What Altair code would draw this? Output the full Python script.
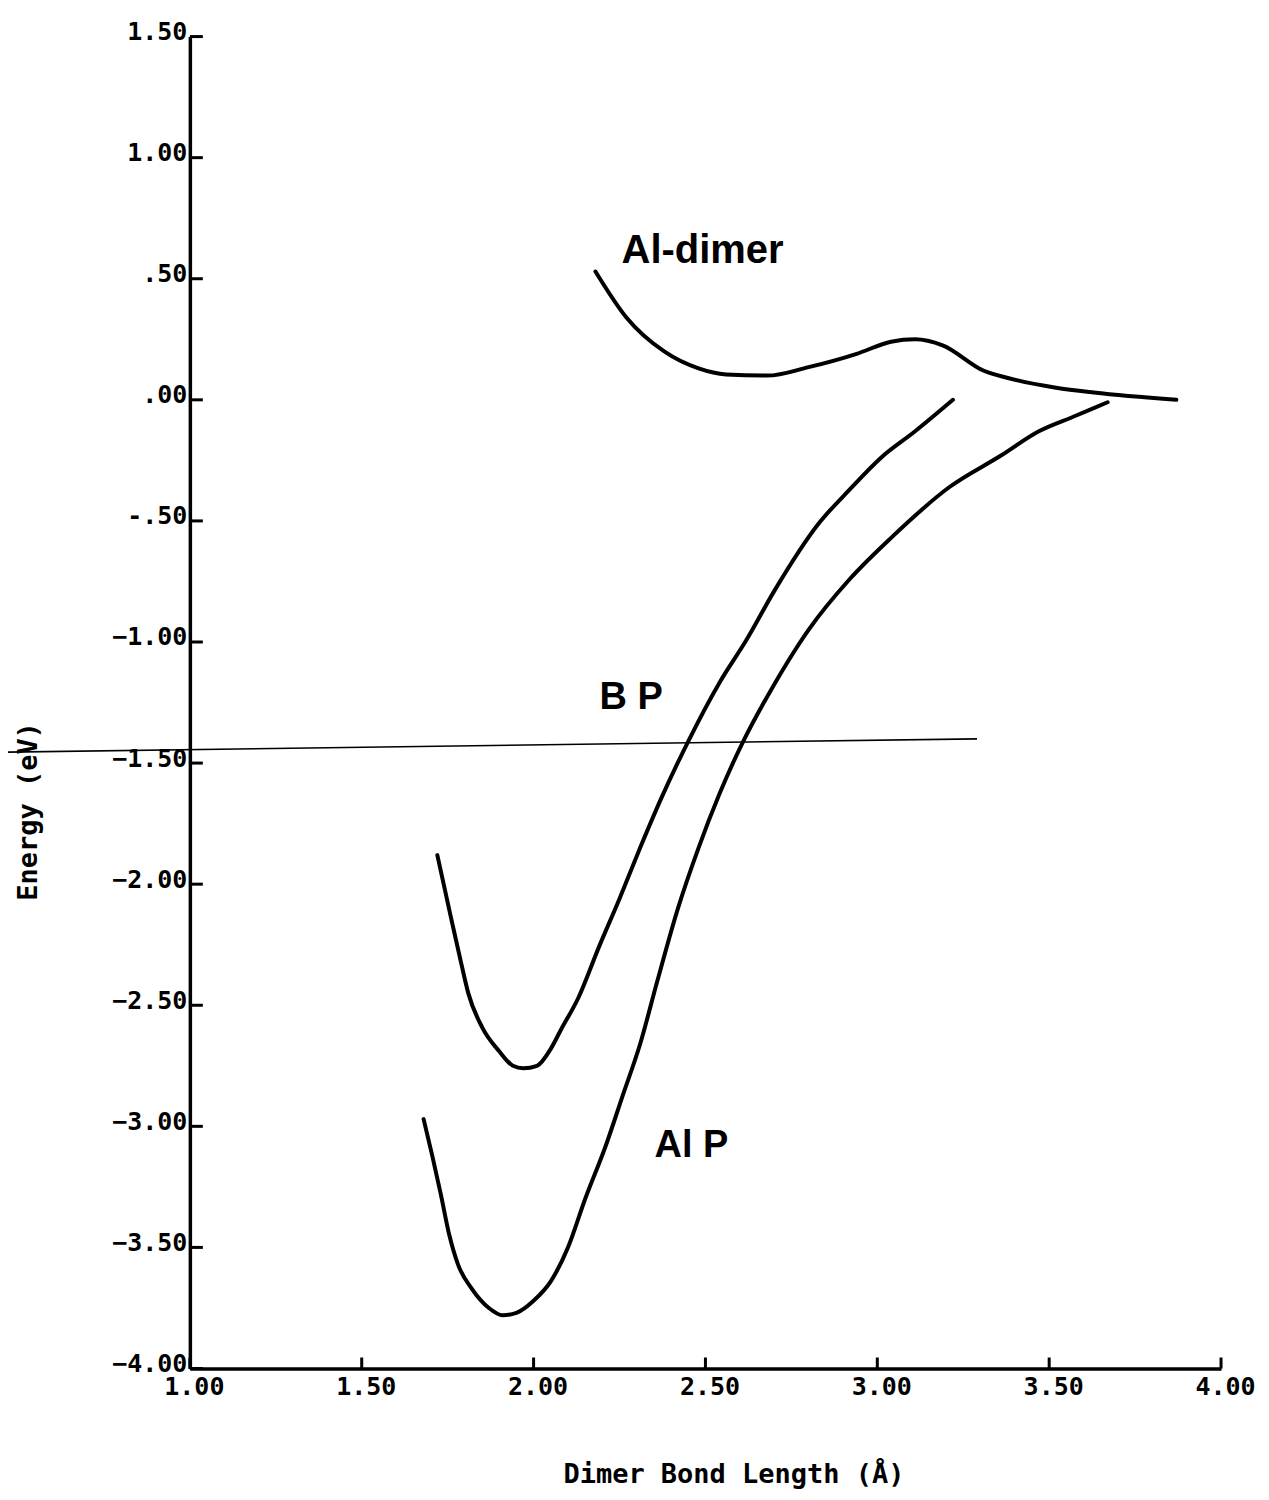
import altair as alt
import pandas as pd

# ---- data ----
al_dimer_x = [2.18, 2.27, 2.38, 2.48, 2.56, 2.68, 2.80, 2.94, 3.04, 3.11, 3.19, 3.31, 3.38, 3.52, 3.63, 3.87]
al_dimer_y = [0.53, 0.34, 0.20, 0.13, 0.105, 0.10, 0.135, 0.19, 0.24, 0.25, 0.225, 0.12, 0.09, 0.05, 0.03, 0.00]

bp_x = [1.72, 1.76, 1.79, 1.81, 1.85, 1.90, 1.94, 1.97, 2.01, 2.05, 2.08, 2.13, 2.19, 2.25, 2.31,
        2.37, 2.45, 2.54, 2.62, 2.70, 2.83, 2.92, 3.01, 3.11, 3.22]
bp_y = [-1.88, -2.14, -2.33, -2.45, -2.59, -2.69, -2.75, -2.76, -2.75, -2.68, -2.60, -2.47, -2.26, -2.06, -1.85,
        -1.65, -1.41, -1.17, -0.99, -0.79, -0.51, -0.37, -0.24, -0.13, 0.00]

alp_x = [1.68, 1.705, 1.73, 1.755, 1.78, 1.82, 1.87, 1.91, 1.95, 2.00, 2.05, 2.10, 2.15, 2.21, 2.26,
         2.31, 2.36, 2.42, 2.48, 2.54, 2.61, 2.67, 2.69, 2.80, 2.92, 3.04, 3.21, 3.36, 3.47, 3.57, 3.67]
alp_y = [-2.97, -3.12, -3.28, -3.45, -3.57, -3.67, -3.75, -3.78, -3.77, -3.72, -3.64, -3.50, -3.30, -3.08, -2.87,
         -2.66, -2.40, -2.10, -1.85, -1.63, -1.41, -1.25, -1.20, -0.95, -0.74, -0.57, -0.36, -0.23, -0.13, -0.07, -0.01]

ref_line_x = [0.45, 3.29]
ref_line_y = [-1.455, -1.40]

label_text = ["Al-dimer", "B P", "Al P"]
label_x = [2.256, 2.192, 2.352]
label_y = [0.567, -1.277, -3.125]
label_size = [40, 38, 38]

x_ticks = [1.0, 1.5, 2.0, 2.5, 3.0, 3.5, 4.0]
y_ticks = [-4.0, -3.5, -3.0, -2.5, -2.0, -1.5, -1.0, -0.5, 0.0, 0.5, 1.0, 1.5]

# ---- tables ----
rows = []
for name, xs, ys in [("Al-dimer", al_dimer_x, al_dimer_y), ("BP", bp_x, bp_y), ("AlP", alp_x, alp_y)]:
    for i, (a, b) in enumerate(zip(xs, ys)):
        rows.append({"series": name, "i": i, "x": a, "y": b})
curves = pd.DataFrame(rows)
ref = pd.DataFrame({"x": ref_line_x, "y": ref_line_y, "i": [0, 1]})
labels = pd.DataFrame({"t": label_text, "x": label_x, "y": label_y, "s": label_size})
xt = pd.DataFrame({"x": x_ticks})
yt = pd.DataFrame({"y": y_ticks})

lab_expr = ("abs(datum.value) < 1 ? (datum.value < 0 ? '-' : '') + "
            "substring(format(abs(datum.value), '.2f'), 1) : format(datum.value, '.2f')")

xscale = alt.Scale(domain=[1, 4], nice=False, zero=False)
yscale = alt.Scale(domain=[-4, 1.5], nice=False, zero=False)

tick_font = "DejaVu Sans Mono"

xaxis = alt.Axis(values=x_ticks, labelExpr=lab_expr, grid=False, tickSize=0, labelPadding=6,
                 labelFont=tick_font, labelFontWeight="bold", labelFontSize=25, labelColor="black",
                 labelOffset=4, labelFlush=False, labelOverlap=False,
                 domainColor="black", domainWidth=3.5,
                 title="Dimer Bond Length (Å)", titleFont=tick_font, titleFontWeight="bold",
                 titleFontSize=27, titleColor="black", titleX=544, titleY=114,
                 titleBaseline="alphabetic", titleAlign="center")
yaxis = alt.Axis(values=y_ticks, labelExpr=lab_expr, grid=False, tickSize=0, labelPadding=3,
                 labelFont=tick_font, labelFontWeight="bold", labelFontSize=25, labelColor="black",
                 labelBaseline="alphabetic", labelOffset=3, labelFlush=False, labelOverlap=False,
                 domainColor="black", domainWidth=3.5,
                 title="Energy (eV)", titleFont=tick_font, titleFontWeight="bold",
                 titleFontSize=27, titleColor="black", titleX=-153, titleY=775,
                 titleAngle=270, titleBaseline="alphabetic", titleAlign="center")

base_axes = alt.Chart(curves).mark_line(opacity=0).encode(
    x=alt.X("x:Q", scale=xscale, axis=xaxis),
    y=alt.Y("y:Q", scale=yscale, axis=yaxis),
    detail="series:N",
)

lines = alt.Chart(curves).mark_line(color="black", strokeWidth=4, interpolate="monotone",
                                    strokeCap="round").encode(
    x=alt.X("x:Q", scale=xscale),
    y=alt.Y("y:Q", scale=yscale),
    detail="series:N",
    order="i:Q",
)

refline = alt.Chart(ref).mark_line(color="black", strokeWidth=1.6).encode(
    x=alt.X("x:Q", scale=xscale),
    y=alt.Y("y:Q", scale=yscale),
    order="i:Q",
)

texts = alt.Chart(labels).mark_text(align="left", baseline="alphabetic", font="Liberation Sans",
                                    fontWeight="bold", color="black").encode(
    x=alt.X("x:Q", scale=xscale),
    y=alt.Y("y:Q", scale=yscale),
    text="t:N",
    size=alt.Size("s:Q", scale=None, legend=None),
)

xticks = alt.Chart(xt).mark_rule(color="black", strokeWidth=3).encode(
    x=alt.X("x:Q", scale=xscale),
    y=alt.value(1333),
    y2=alt.value(1322),
)
yticks = alt.Chart(yt).mark_rule(color="black", strokeWidth=3).encode(
    y=alt.Y("y:Q", scale=yscale),
    x=alt.value(0),
    x2=alt.value(13),
)

chart = alt.layer(base_axes, refline, lines, xticks, yticks, texts).properties(
    width=1032, height=1333,
    autosize=alt.AutoSizeParams(type="none"),
    padding={"left": 182, "top": 28, "right": 40, "bottom": 128},
    background="white",
).configure_view(stroke=None)

chart.save("out.html", embed_options={"renderer": "svg", "actions": False})
